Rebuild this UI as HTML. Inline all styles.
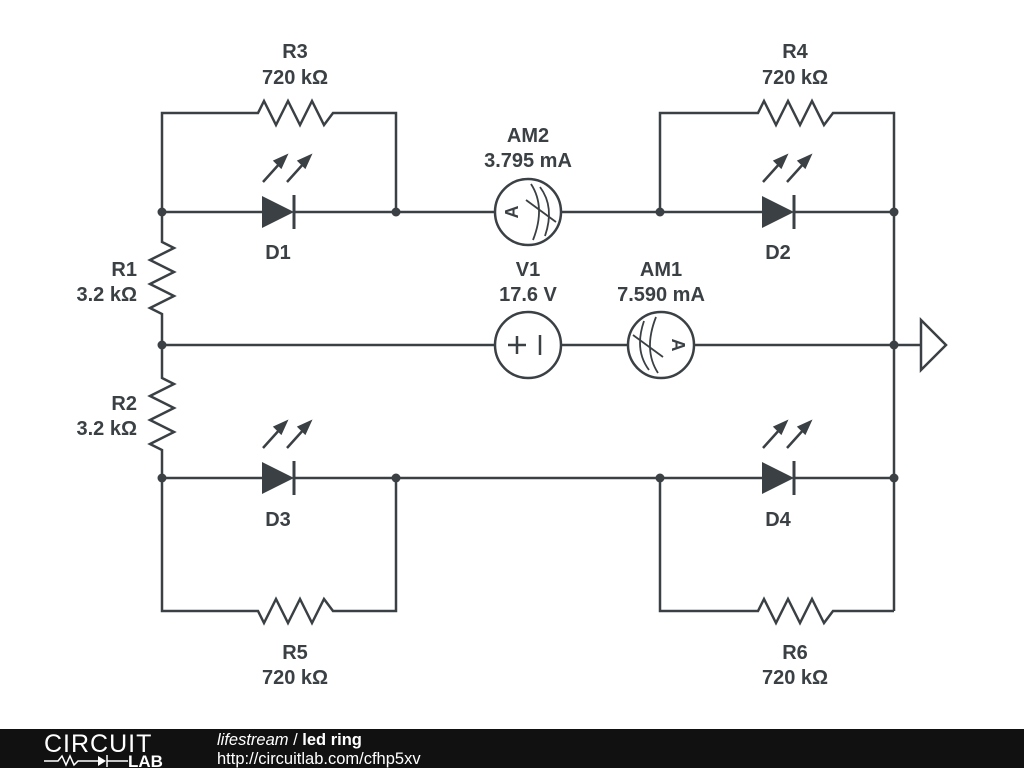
<!DOCTYPE html>
<html><head><meta charset="utf-8"><style>
body{margin:0;background:#fff;width:1024px;height:768px;overflow:hidden;font-family:"Liberation Sans",sans-serif}
</style></head><body>
<svg width="1024" height="768" viewBox="0 0 1024 768" xmlns="http://www.w3.org/2000/svg">
<defs>
<g id="led">
<polygon points="-16,-16 16,0 -16,16" fill="#3a4044"/>
<line x1="16" y1="-17" x2="16" y2="17" stroke="#3a4044" stroke-width="3"/>
<g stroke="#3a4044" stroke-width="2.5" fill="#3a4044">
<line x1="-15" y1="-30" x2="3" y2="-50"/><polygon points="8,-56 -3,-51 3,-45"/>
<line x1="9" y1="-30" x2="27" y2="-50"/><polygon points="32,-56 21,-51 27,-45"/>
</g>
</g>
<g id="amm" fill="none" stroke="#3a4044" stroke-width="2.5">
<circle r="33" fill="#fff"/>
<path d="M3,-28 Q18,-5 5,28" stroke-width="1.8"/>
<path d="M12,-25 Q27,-5 17,24" stroke-width="1.8"/>
<line x1="-2" y1="-12" x2="28" y2="10" stroke-width="1.8"/>
</g>
</defs>
<g stroke="#3a4044" stroke-width="2.5" fill="none">
<polyline points="162,212 162,113 258,113 264,101 276,125 288,101 300,125 312,101 324,125 333,113 396,113 396,212"/>
<polyline points="660,212 660,113 758,113 764,101 776,125 788,101 800,125 812,101 824,125 833,113 894,113 894,611"/>
<polyline points="396,478 396,611 333,611 324,599 312,623 300,599 288,623 276,599 264,623 258,611 162,611 162,478"/>
<polyline points="660,478 660,611 758,611 764,599 776,623 788,599 800,623 812,599 824,623 833,611 894,611"/>
<polyline points="162,212 162,242 174,248 150,260 174,272 150,284 174,296 150,308 162,314 162,378 174,384 150,396 174,408 150,420 174,432 150,444 162,450 162,478"/>
<line x1="162" y1="212" x2="262" y2="212"/><line x1="294" y1="212" x2="495" y2="212"/>
<line x1="561" y1="212" x2="762" y2="212"/><line x1="794" y1="212" x2="894" y2="212"/>
<line x1="162" y1="345" x2="495" y2="345"/><line x1="561" y1="345" x2="628" y2="345"/>
<line x1="694" y1="345" x2="921" y2="345"/>
<line x1="162" y1="478" x2="262" y2="478"/><line x1="294" y1="478" x2="762" y2="478"/>
<line x1="794" y1="478" x2="894" y2="478"/>
<polygon points="921,320 946,345 921,370"/>
<circle cx="528" cy="345" r="33"/>
<line x1="508" y1="345" x2="526" y2="345"/><line x1="517" y1="336" x2="517" y2="354"/>
<line x1="540" y1="335" x2="540" y2="355"/>
</g>
<use href="#led" x="278" y="212"/><use href="#led" x="778" y="212"/>
<use href="#led" x="278" y="478"/><use href="#led" x="778" y="478"/>
<g transform="translate(528,212)"><use href="#amm"/></g>
<g transform="translate(661,345) rotate(180)"><use href="#amm"/></g>
<text x="512" y="218" font-size="18" font-weight="bold" fill="#3a4044" transform="rotate(-90 512 212)" text-anchor="middle">A</text>
<text x="678" y="351" font-size="18" font-weight="bold" fill="#3a4044" text-anchor="middle" transform="rotate(90 678 345)">A</text>
<g fill="#3a4044">
<circle cx="162" cy="212" r="4.5"/><circle cx="396" cy="212" r="4.5"/><circle cx="660" cy="212" r="4.5"/><circle cx="894" cy="212" r="4.5"/>
<circle cx="162" cy="345" r="4.5"/><circle cx="894" cy="345" r="4.5"/>
<circle cx="162" cy="478" r="4.5"/><circle cx="396" cy="478" r="4.5"/><circle cx="660" cy="478" r="4.5"/><circle cx="894" cy="478" r="4.5"/>
</g>
<g font-size="20" font-weight="bold" fill="#3a4044" text-anchor="middle">
<text x="295" y="58">R3</text><text x="295" y="84">720 kΩ</text>
<text x="795" y="58">R4</text><text x="795" y="84">720 kΩ</text>
<text x="528" y="142">AM2</text><text x="528" y="167">3.795 mA</text>
<text x="278" y="259">D1</text><text x="778" y="259">D2</text>
<text x="528" y="276">V1</text><text x="528" y="301">17.6 V</text>
<text x="661" y="276">AM1</text><text x="661" y="301">7.590 mA</text>
<text x="278" y="526">D3</text><text x="778" y="526">D4</text>
<text x="295" y="659">R5</text><text x="295" y="684">720 kΩ</text>
<text x="795" y="659">R6</text><text x="795" y="684">720 kΩ</text>
<g text-anchor="end"><text x="137" y="276">R1</text><text x="137" y="301">3.2 kΩ</text>
<text x="137" y="410">R2</text><text x="137" y="435">3.2 kΩ</text></g>
</g>
<rect x="0" y="729" width="1024" height="39" fill="#111"/>
<text x="44" y="752" font-size="25" fill="#fff" letter-spacing="1">CIRCUIT</text>
<polyline points="44,761 58,761 62,756 66,765 70,756 74,765 78,761 98,761" stroke="#fff" stroke-width="1.5" fill="none"/>
<polygon points="98,756 106,761 98,766" fill="#fff"/><line x1="107" y1="755" x2="107" y2="767" stroke="#fff" stroke-width="1.5"/>
<line x1="107" y1="761" x2="128" y2="761" stroke="#fff" stroke-width="1.5"/>
<text x="128" y="767" font-size="17" font-weight="bold" fill="#fff">LAB</text>
<text x="217" y="745" font-size="16.5" fill="#fff"><tspan font-style="italic">lifestream</tspan> / <tspan font-weight="bold">led ring</tspan></text>
<text x="217" y="764" font-size="16.5" fill="#fff">http://circuitlab.com/cfhp5xv</text>
</svg>
</body></html>
